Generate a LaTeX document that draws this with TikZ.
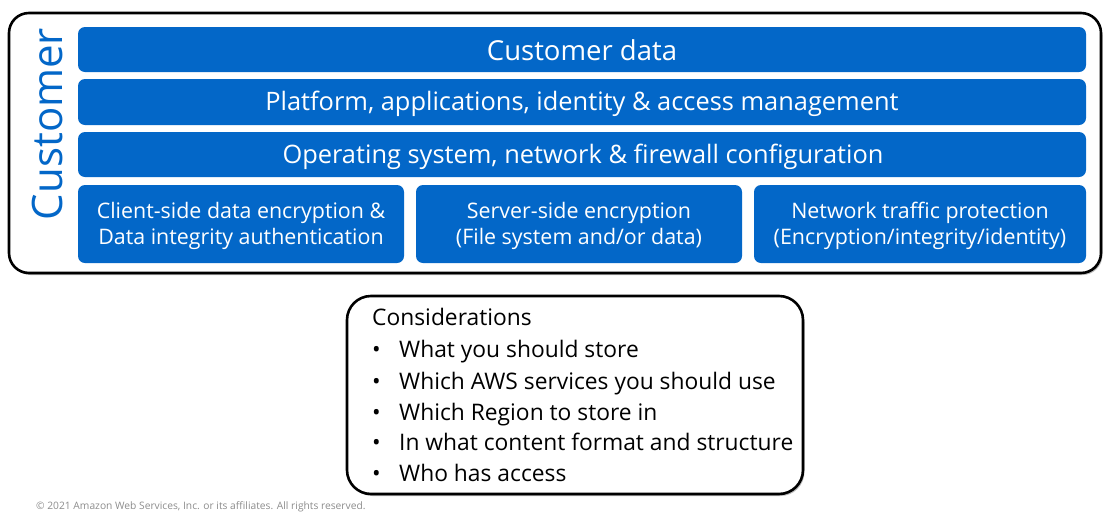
\documentclass[tikz,border=0pt]{standalone}
\usepackage{fontspec}
\setmainfont{Open Sans}
\usetikzlibrary{shadows}
\definecolor{awsblue}{RGB}{3,103,200}
\definecolor{copygray}{RGB}{140,140,140}
\tikzset{
  outerbox/.style={draw=black, line width=2.6pt, rounded corners=20pt, fill=white,
    drop shadow={shadow xshift=1.5pt, shadow yshift=-2pt, fill=black!45, opacity=0.6}},
  consbox/.style={draw=black, line width=2.6pt, rounded corners=24pt, fill=white,
    drop shadow={shadow xshift=1.5pt, shadow yshift=-2pt, fill=black!45, opacity=0.6}},
  bar/.style={fill=awsblue, rounded corners=7pt},
  bartext/.style={text=white, font=\fontsize{25.4}{28}\selectfont, inner sep=0pt},
  smalltext/.style={text=white, font=\fontsize{21.4}{26}\selectfont, inner sep=0pt, align=center},
  constext/.style={text=black, font=\fontsize{22.8}{26}\selectfont, inner sep=0pt, anchor=base west},
}
\begin{document}
\begin{tikzpicture}[x=1pt,y=-1pt]
\useasboundingbox (0,0) rectangle (1120,520);
% outer customer box
\path[outerbox] (9,13) rectangle (1101,273);
\node[rotate=90, text=awsblue, font=\fontsize{42}{42}\selectfont, inner sep=0pt] (cust) at (47,124) {Customer};
% bars
\path[bar] (78,27) rectangle (1086,72);
\node[bartext, font=\fontsize{27.5}{30}\selectfont] (b1) at (582,50) {Customer data};
\path[bar] (78,79) rectangle (1086,125);
\node[bartext] (b2) at (582,104) {Platform, applications, identity \& access management};
\path[bar] (78,132) rectangle (1086,177);
\node[bartext] (b3) at (583,156.5) {Operating system, network \& firewall configuration};
% bottom boxes
\path[bar] (78,185) rectangle (404,263);
\node[smalltext] (c1) at (241,226) {Client-side data encryption \&\\Data integrity authentication};
\path[bar] (416,185) rectangle (742,263);
\node[smalltext] (c2) at (579,226) {Server-side encryption\\(File system and/or data)};
\path[bar] (754,185) rectangle (1086,263);
\node[smalltext] (c3) at (920,226) {Network traffic protection\\(Encryption/integrity/identity)};
% considerations box
\path[consbox] (347,296) rectangle (803,494);
\node[constext] (ch) at (372,325) {Considerations};
\foreach \y/\t [count=\i] in {357.5/What you should store, 389/Which AWS services you should use, 420/Which Region to store in, 450.5/In what content format and structure, 481/Who has access}{
  \node[constext] (bul\i) at (372,\y) {\textbullet};
  \node[constext] (item\i) at (399,\y) {\t};
}
% copyright
\node[anchor=west, inner sep=0pt, text=copygray, font=\fontsize{10.25}{11}\selectfont] (copy) at (36,507) {© 2021 Amazon Web Services, Inc. or its affiliates. All rights reserved.};
\end{tikzpicture}
\end{document}
